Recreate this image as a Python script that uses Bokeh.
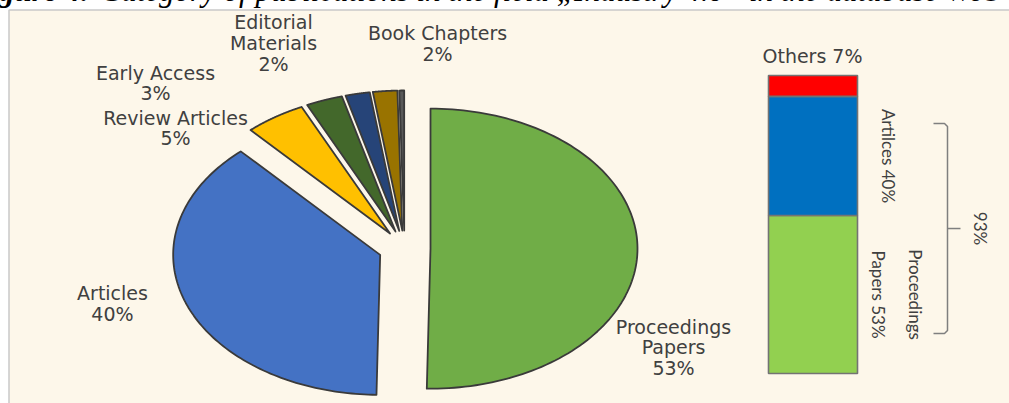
import numpy as np
from bokeh.plotting import figure
from bokeh.models import Range1d
from bokeh.core.properties import value
from bokeh.embed import file_html
from bokeh.resources import INLINE

# ---------------- data ----------------
pie_categories = ["Proceedings Papers", "Articles", "Review Articles", "Early Access",
                  "Editorial Materials", "Book Chapters", "Other"]
pie_values = [53, 40, 5, 3, 2, 2, 0.4]
pie_labels = ["Proceedings\nPapers\n53%", "Articles\n40%", "Review Articles\n5%",
              "Early Access\n3%", "Editorial\nMaterials\n2%", "Book Chapters\n2%", ""]

bar_categories = ["Proceedings Papers", "Artilces", "Others"]
bar_values = [53, 40, 7]
bar_labels = ["Proceedings\nPapers 53%", "Artilces 40%", "Others 7%"]
bracket_label = "93%"

title_bold = "Figure 4."
title_rest = "Category of publications in the field \u201eIndustry 4.0\u201c in the database WoS"

# ---------------- styles / layout ----------------
pie_colors = ["#70AD47", "#4472C4", "#FFC000", "#43682B", "#264478", "#997300", "#595959"]
bar_colors = ["#92D050", "#0070C0", "#FF0000"]
TEXT = "#404040"
CREAM = "#FDF7EA"

W, H = 1009, 403                # target page area (pixels)
SHIFT = 8                       # canvas is pulled 8px up/left by the negative margin
PIE_CX, PIE_CY = 404, 248       # pie centre (pixels)
PIE_RX, PIE_RY = 207, 140       # stretched pie radii
EXPL_X, EXPL_Y = 26, 18         # explosion offsets
pie_label_x = [673, 112, 175, 155, 273, 437, 0]
pie_label_y = [347, 303, 127.5, 82.5, 42.7, 43, 0]

BAR_X, BAR_W = 812.5, 89
BAR_BOTTOM, BAR_SCALE = 373, 2.98   # pixel of 0 %, pixels per %

p = figure(width=W + SHIFT, height=H + SHIFT,
           x_range=Range1d(-SHIFT, W), y_range=Range1d(H, -SHIFT),
           output_backend="svg", toolbar_location=None,
           x_axis_location=None, y_axis_location=None, min_border=0,
           outline_line_color=None, background_fill_color="white",
           border_fill_color="white")
p.grid.visible = False
p.styles = {"margin": "-8px"}

# chart area background
p.quad(left=8.5, right=W + 10, top=9.5, bottom=H + 10, fill_color=CREAM,
       line_color="#C9C9C9", line_width=1.5)

# title (cut at the top edge as in the reference)
p.text(x=[88], y=[-10.5], text=[title_bold], text_font=value("Liberation Serif"),
       text_font_style="bold italic", text_font_size="31px", text_align="right",
       text_baseline="middle", text_color="black")
p.text(x=[100], y=[-10.5], text=[title_rest], text_font=value("Liberation Serif"),
       text_font_style="italic", text_font_size="31px", text_align="left",
       text_baseline="middle", text_color="black")

# ---------------- exploded pie ----------------
total = float(sum(pie_values))
cum = np.concatenate([[0.0], np.cumsum(pie_values)])
xs, ys = [], []
for i in range(len(pie_values)):
    a0 = np.deg2rad(90 - 360 * cum[i] / total)
    a1 = np.deg2rad(90 - 360 * cum[i + 1] / total)
    mid = (a0 + a1) / 2
    cx = PIE_CX + EXPL_X * np.cos(mid)
    cy = PIE_CY - EXPL_Y * np.sin(mid)
    t = np.linspace(a0, a1, 120)
    xs.append(np.concatenate([[cx], cx + PIE_RX * np.cos(t)]).tolist())
    ys.append(np.concatenate([[cy], cy - PIE_RY * np.sin(t)]).tolist())
p.patches(xs, ys, fill_color=pie_colors, line_color="#3A3A3A", line_width=1.8,
          line_join="round")

p.text(x=pie_label_x, y=pie_label_y, text=pie_labels, text_font=value("DejaVu Sans"),
       text_font_size="19px", text_color=TEXT, text_align="center",
       text_baseline="middle", text_line_height=0.95)

# ---------------- stacked bar ----------------
p.extra_y_ranges = {"bar": Range1d(start=(BAR_BOTTOM - H) / BAR_SCALE,
                                   end=(BAR_BOTTOM + SHIFT) / BAR_SCALE)}
bar_bottoms = np.concatenate([[0.0], np.cumsum(bar_values)[:-1]])
bar_tops = np.cumsum(bar_values)
p.vbar(x=BAR_X, width=BAR_W, bottom=bar_bottoms, top=bar_tops, fill_color=bar_colors,
       line_color="#737373", line_width=1.6, y_range_name="bar")

mids = bar_bottoms + np.array(bar_values) / 2
# rotated labels to the right of the bar
p.text(x=[896.5], y=[mids[0]], text=[bar_labels[0]], angle=-np.pi / 2,
       text_font=value("Lato"), text_font_size="17px", text_color=TEXT,
       text_align="center", text_baseline="middle", text_line_height=1.8,
       y_range_name="bar")
p.text(x=[888], y=[mids[1]], text=[bar_labels[1]], angle=-np.pi / 2,
       text_font=value("Lato"), text_font_size="17px", text_color=TEXT,
       text_align="center", text_baseline="middle", y_range_name="bar")
p.text(x=[812], y=[bar_tops[-1] + 20 / BAR_SCALE], text=[bar_labels[2]],
       text_font=value("DejaVu Sans"), text_font_size="19px", text_color=TEXT,
       text_align="center", text_baseline="middle", y_range_name="bar")

# bracket for 93 %
BR_LO, BR_HI = 13.4, 83.9
br_mid = (BR_LO + BR_HI) / 2
p.multi_line(xs=[[933, 944, 947, 947, 944, 933], [947, 960]],
             ys=[[BR_HI, BR_HI, BR_HI - 1, BR_LO + 1, BR_LO, BR_LO], [br_mid, br_mid]],
             line_color="#7F7F7F", line_width=1.5, y_range_name="bar")
p.text(x=[980], y=[br_mid], text=[bracket_label], angle=-np.pi / 2,
       text_font=value("Lato"), text_font_size="17px", text_color=TEXT,
       text_align="center", text_baseline="middle", y_range_name="bar")

open("out.html", "w").write(file_html(p, INLINE))
